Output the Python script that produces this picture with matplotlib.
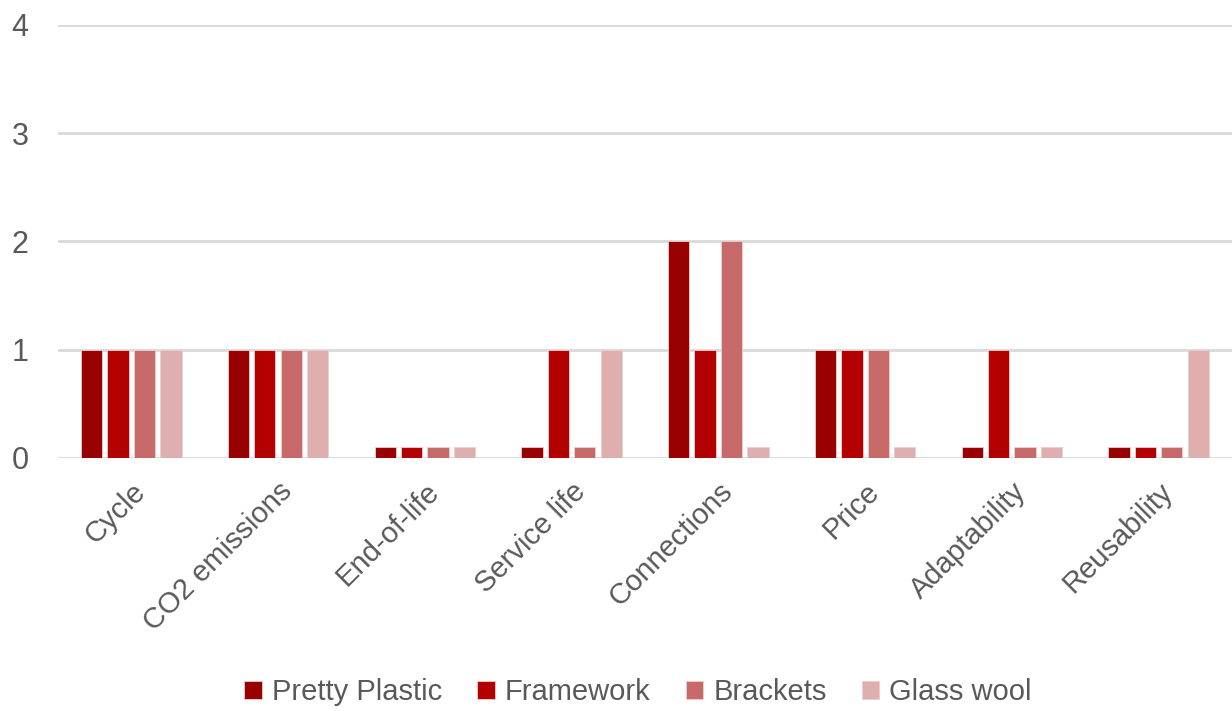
import numpy as np
import matplotlib.pyplot as plt

plt.rcParams['font.family'] = ['Liberation Sans', 'DejaVu Sans']

# Chart data
categories = ["Cycle", "CO2 emissions", "End-of-life", "Service life",
              "Connections", "Price", "Adaptability", "Reusability"]
pretty_plastic = [1, 1, 0.1, 0.1, 2, 1, 0.1, 0.1]
framework = [1, 1, 0.1, 1, 1, 1, 1, 0.1]
brackets = [1, 1, 0.1, 0.1, 2, 1, 0.1, 0.1]
glass_wool = [1, 1, 0.1, 1, 0.1, 0.1, 0.1, 1]

series = [("Pretty Plastic", pretty_plastic, "#990000"),
          ("Framework", framework, "#B30000"),
          ("Brackets", brackets, "#C96A6A"),
          ("Glass wool", glass_wool, "#DFAEAF")]

fig = plt.figure(figsize=(12.32, 7.11), dpi=100)
ax = fig.add_axes([0.047, 0.356, 0.953, 0.609])

x = np.arange(len(categories))
step = 0.18
width = 0.145
for i, (name, vals, color) in enumerate(series):
    ax.bar(x + (i - 1.5) * step, vals, width, color=color, label=name,
           edgecolor="#EBD0D0", linewidth=0.6, zorder=3)

ax.set_xlim(-0.5, len(categories) - 0.5)
ax.set_ylim(0, 4)
ax.set_yticks([0, 1, 2, 3, 4])
ax.grid(axis="y", color="#D9D9D9", linewidth=2, zorder=0)
for s in ax.spines.values():
    s.set_visible(False)

ax.set_xticks(x)
ax.set_xticklabels(categories, rotation=45, ha="right", rotation_mode="anchor")
ax.tick_params(axis="both", length=0, colors="#595959")
ax.tick_params(axis="x", pad=14, labelsize=21)
ax.tick_params(axis="y", pad=21, labelsize=22)

fig.legend(loc="lower center", ncol=4, frameon=False, fontsize=21,
           labelcolor="#595959", bbox_to_anchor=(0.518, -0.03),
           handlelength=0.6, handleheight=0.6, handletextpad=0.35,
           columnspacing=1.2)

fig.savefig("out.png", dpi=100)
